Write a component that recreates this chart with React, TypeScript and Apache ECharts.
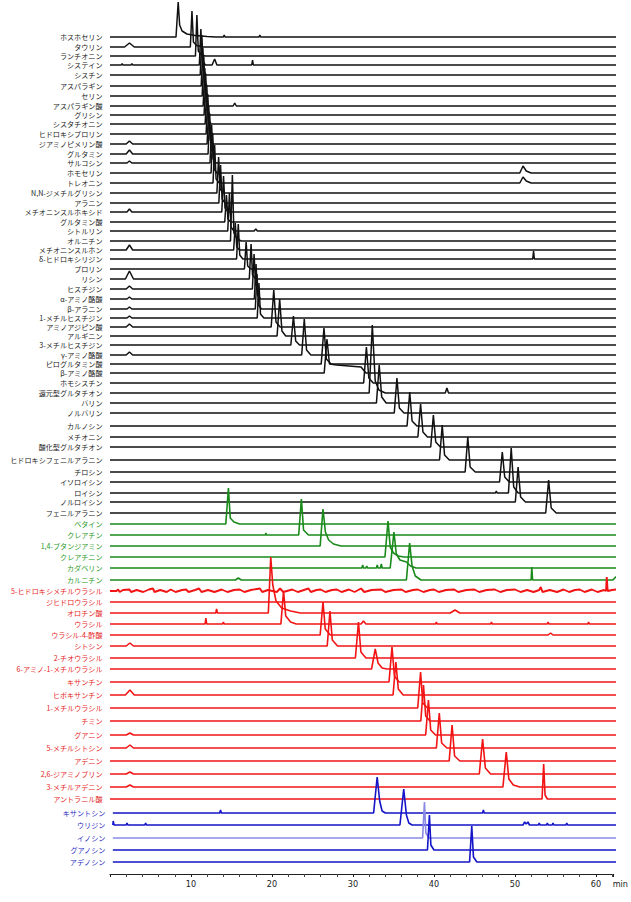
import React, { useEffect, useRef } from "react";
import * as echarts from "echarts";

// Retention-time window of every trace (min)
const TRACE_START = 0;
const NUCLEOSIDE_START = 0.35;
const TRACE_END = 63.4;

// ---------- Amino acids (black) ----------
const aminoNames = [
  "ホスホセリン", "タウリン", "ランチオニン", "システイン", "シスチン", "アスパラギン", "セリン",
  "アスパラギン酸", "グリシン", "シスタチオニン", "ヒドロキシプロリン", "ジアミノピメリン酸", "グルタミン",
  "サルコシン", "ホモセリン", "トレオニン", "N,N-ジメチルグリシン", "アラニン", "メチオニンスルホキシド",
  "グルタミン酸", "シトルリン", "オルニチン", "メチオニンスルホン", "δ-ヒドロキシリジン", "プロリン",
  "リシン", "ヒスチジン", "α-アミノ酪酸", "β-アラニン", "1-メチルヒスチジン", "アミノアジピン酸",
  "アルギニン", "3-メチルヒスチジン", "γ-アミノ酪酸", "ピログルタミン酸", "β-アミノ酪酸", "ホモシスチン",
  "還元型グルタチオン", "バリン", "ノルバリン", "カルノシン", "メチオニン", "酸化型グルタチオン",
  "ヒドロキシフェニルアラニン", "チロシン", "イソロイシン", "ロイシン", "ノルロイシン", "フェニルアラニン",
];
// stacking offset of each trace baseline
const aminoOffsets = [
  837, 827, 818, 809, 799, 788, 778, 768, 759, 750, 740, 730, 720, 711, 701, 691, 681, 671, 662, 652,
  643, 633, 624, 615, 605, 595, 585, 575, 565, 556, 547, 538, 529, 519, 510, 501, 491, 481, 471, 461,
  448, 437, 427, 414, 402, 392, 381, 372, 361,
];
// [time (min), signal] points of each trace
const aminoTraces: number[][][] = [
  [[8.15, 0], [8.42, 35], [8.6, 12], [8.9, 6], [9.5, 3], [10.5, 1.5], [12, 0.5], [13, 0], [14.0, 0], [14.1, 2], [14.2, 0], [18.4, 0], [18.5, 2], [18.6, 0]],
  [[1.8, 0], [2.4, 4], [3.0, 0], [9.92, 0], [10.12, 36], [10.3, 5], [10.7, 1.5], [11.5, 0]],
  [[10.55, 0], [10.73, 41], [10.9, 5], [11.3, 1], [11.8, 0]],
  [[1.4, 0], [1.5, 1.5], [1.6, 0], [2.6, 0], [2.7, 1.5], [2.8, 0], [11.03, 0], [11.22, 36], [11.4, 4], [11.8, 0], [12.6, 0], [12.92, 6], [13.2, 0], [17.5, 0], [17.6, 5], [17.7, 0]],
  [[11.14, 0], [11.34, 40], [11.52, 4], [11.9, 0]],
  [[11.26, 0], [11.46, 38], [11.64, 4], [12.0, 0]],
  [[11.38, 0], [11.58, 40], [11.76, 4], [12.1, 0]],
  [[11.5, 0], [11.7, 38], [11.88, 4], [12.2, 0], [15.2, 0], [15.4, 3], [15.6, 0]],
  [[11.62, 0], [11.82, 40], [12.0, 4], [12.4, 0]],
  [[11.75, 0], [11.95, 38], [12.13, 4], [12.5, 0]],
  [[11.87, 0], [12.07, 40], [12.25, 4], [12.6, 0]],
  [[2.0, 0], [2.4, 3], [2.8, 0], [11.99, 0], [12.19, 38], [12.37, 4], [12.7, 0]],
  [[2.0, 0], [2.4, 4], [2.8, 0], [12.11, 0], [12.31, 40], [12.49, 4], [12.9, 0]],
  [[2.1, 0], [2.4, 2], [2.7, 0], [12.35, 0], [12.55, 38], [12.73, 4], [13.1, 0]],
  [[12.48, 0], [12.68, 40], [12.86, 4], [13.2, 0], [50.6, 0], [51.0, 7], [51.4, 2], [52, 0]],
  [[12.72, 0], [12.92, 38], [13.1, 4], [13.5, 0], [50.6, 0], [51.0, 6], [51.4, 2], [52, 0]],
  [[13.2, 0], [13.41, 36], [13.6, 4], [14.0, 0]],
  [[13.44, 0], [13.65, 38], [13.84, 4], [14.2, 0]],
  [[2.1, 0], [2.4, 3], [2.7, 0], [13.8, 0], [14.02, 36], [14.2, 4], [14.6, 0]],
  [[14.17, 0], [14.38, 27], [14.56, 3], [14.9, 0]],
  [[14.54, 0], [14.75, 38], [14.94, 4], [15.3, 0], [17.8, 0], [18.0, 2], [18.2, 0]],
  [[14.88, 0], [15.11, 66], [15.3, 8], [15.7, 2], [16.2, 0]],
  [[2.0, 0], [2.4, 5], [2.8, 0], [15.27, 0], [15.47, 27], [15.65, 3], [16.0, 0]],
  [[15.63, 0], [15.84, 35], [16.02, 4], [16.4, 0], [52.2, 0], [52.3, 8], [52.4, 0]],
  [[16.6, 0], [16.81, 27], [17.0, 3], [17.4, 0]],
  [[1.9, 0], [2.4, 8], [2.9, 0], [17.2, 0], [17.42, 35], [17.6, 4], [18.0, 0]],
  [[2.0, 0], [2.4, 3], [2.8, 0], [17.58, 0], [17.79, 35], [17.98, 4], [18.4, 0]],
  [[2.1, 0], [2.4, 2], [2.7, 0], [17.82, 0], [18.03, 35], [18.22, 4], [18.6, 0]],
  [[2.1, 0], [2.4, 2], [2.7, 0], [17.94, 0], [18.15, 35], [18.34, 4], [18.7, 0]],
  [[2.1, 0], [2.4, 2], [2.7, 0], [18.18, 0], [18.39, 35], [18.58, 4], [19.0, 0]],
  [[2.0, 0], [2.4, 3], [2.8, 0], [19.9, 0], [20.22, 37], [20.5, 5], [21.0, 0]],
  [[20.63, 0], [20.95, 37], [21.23, 5], [21.7, 0]],
  [[22.33, 0], [22.65, 29], [22.93, 4], [23.4, 0]],
  [[2.0, 0], [2.4, 3], [2.8, 0], [23.67, 0], [23.99, 36], [24.27, 5], [24.8, 0]],
  [[26.08, 0], [26.42, 36], [26.72, 5], [27.3, 0], [62.9, 0], [63.0, 8], [63.1, 0]],
  [[26.45, 0], [26.79, 34], [27.1, 9], [28.0, 8], [31.0, 6], [31.6, 0]],
  [[31.32, 0], [31.66, 36], [31.96, 5], [32.5, 0]],
  [[32.0, 0], [32.39, 68], [32.75, 12], [33.2, 3], [34, 0], [41.4, 0], [41.6, 5], [41.8, 0]],
  [[32.9, 0], [33.24, 38], [33.55, 6], [34.1, 0]],
  [[35.1, 0], [35.43, 35], [35.73, 5], [36.3, 0]],
  [[36.68, 0], [37.01, 34], [37.3, 5], [37.9, 0]],
  [[38.02, 0], [38.35, 33], [38.64, 5], [39.2, 0]],
  [[39.6, 0], [39.93, 32], [40.22, 5], [40.8, 0]],
  [[40.69, 0], [41.02, 35], [41.31, 5], [41.9, 0]],
  [[43.85, 0], [44.18, 35], [44.47, 5], [45.1, 0]],
  [[48.1, 0], [48.44, 30], [48.74, 5], [49.3, 0]],
  [[47.6, 0], [47.7, 2], [47.8, 0], [49.2, 0], [49.54, 45], [49.85, 6], [50.4, 0]],
  [[50.05, 0], [50.39, 35], [50.7, 5], [51.3, 0]],
  [[53.8, 0], [54.16, 33], [54.48, 5], [55.1, 0]],
];

// ---------- Amines (green) ----------
const amineNames = ["ベタイン", "クレアチン", "1,4-ブタンジアミン", "クレアチニン", "カダベリン", "カルニチン"];
const amineOffsets = [350, 339, 328, 317, 306, 294];
const amineTraces: number[][][] = [
  [[14.3, 0], [14.62, 36], [14.85, 6], [15.3, 2], [16, 0]],
  [[19.2, 0], [19.25, 2], [19.3, 0], [23.3, 0], [23.63, 36], [23.9, 5], [24.5, 0]],
  [[25.95, 0], [26.3, 37], [26.6, 14], [27.0, 6], [27.6, 2], [28.5, 0]],
  [[33.95, 0], [34.33, 36], [34.6, 10], [35.0, 4], [35.6, 1], [36.3, 0]],
  [[31.1, 0], [31.2, 3], [31.3, 0], [31.6, 0], [31.7, 2], [31.8, 0], [32.9, 0], [33.0, 3], [33.1, 0], [33.4, 0], [33.5, 4], [33.6, 0], [34.6, 0], [35.06, 36], [35.35, 14], [35.8, 8], [36.6, 6], [37.1, 2], [37.8, 0]],
  [[15.5, 0], [15.84, 2], [16.2, 0], [36.6, 0], [37.0, 37], [37.3, 14], [37.7, 4], [38.4, 0], [52.0, 0], [52.08, 13], [52.18, 0], [62.1, 0], [62.43, 3], [63.4, 3]],
];

// ---------- Nucleobases (red) ----------
const baseNames = [
  "5-ヒドロキシメチルウラシル", "ジヒドロウラシル", "オロチン酸", "ウラシル", "ウラシル-4-酢酸", "シトシン",
  "2-チオウラシル", "6-アミノ-1-メチルウラシル", "キサンチン", "ヒポキサンチン", "1-メチルウラシル", "チミン",
  "グアニン", "5-メチルシトシン", "アデニン", "2,6-ジアミノプリン", "3-メチルアデニン", "アントラニル酸",
];
const baseOffsets = [283, 272, 261, 250, 239, 228, 216, 205, 192, 179, 166, 153, 139, 126, 113, 100, 87, 75];
const baseTraces: number[][][] = [
  [[0.8, 0], [1.0, 1.5], [1.2, -1], [1.6, 1], [2.4, 1.5], [2.6, -1], [3.3, 1], [4.1, -1], [4.8, 1.5], [5.3, 2.5], [5.5, -1], [6.2, 1], [7.0, -1], [7.5, 1.5], [8.1, -1], [8.9, 1], [9.4, 1.5], [9.7, -1], [10.5, 1], [11.0, 2.5], [11.3, -1], [12.1, 1], [12.9, -1], [13.8, 1.5], [14.5, -1], [15.3, 1], [16.0, 1.5], [16.6, -1], [17.4, 1], [18.5, 2.5], [18.8, -1], [19.5, 1], [20.6, -1], [21.0, 2.5], [21.4, -1], [22.5, 1.5], [23.2, -1], [24.5, 2.5], [24.8, -1], [25.5, 1], [26.0, 1.5], [26.6, -1], [27.4, 1], [28.0, 1.5], [28.6, -1], [29.5, 1.5], [30.2, -1], [31.0, 2.5], [31.4, -1], [32.3, 1], [33.5, 1.5], [34.0, -1], [35.0, 1], [36.0, 1.5], [36.5, -1], [37.4, 1], [38.0, 1.5], [38.7, -1], [39.5, 1], [40.0, 1.5], [40.6, -1], [41.5, 1], [42.5, 1.5], [43.0, -1], [44.0, 1], [45.0, 1.5], [45.6, -1], [46.5, 1], [47.5, 1.5], [48.2, -1], [49.0, 1], [50.0, 1.5], [50.7, -1], [51.5, 1], [52.3, -1], [53.0, 1], [53.19, 4], [53.4, -1], [54.3, 1], [55.2, -1], [56.0, 1.5], [56.7, -1], [57.4, 1], [58.0, 1.5], [58.6, -1], [59.5, 1.5], [60.2, -1], [61.0, 1], [61.25, 0], [61.34, 14], [61.45, 0], [62.0, 1], [62.5, 1.5], [63.0, -1]],
  [],
  [[13.06, 0], [13.16, 4], [13.26, 0], [19.55, 0], [19.85, 56], [20.1, 28], [20.5, 12], [21.2, 5], [22.3, 2], [23.5, 0], [42.0, 0], [42.6, 3], [43.2, 0]],
  [[11.74, 0], [11.84, 6], [11.94, 0], [13.9, 0], [14.0, 2], [14.1, 0], [21.1, 0], [21.43, 33], [21.7, 8], [22.3, 2], [23, 0], [31.0, 0], [31.3, 3], [31.6, 0], [40.2, 0], [40.3, 2], [40.4, 0], [47.0, 0], [47.1, 2], [47.2, 0], [54.0, 0], [54.1, 2], [54.2, 0], [59.0, 0], [59.1, 2], [59.2, 0]],
  [[25.95, 0], [26.3, 33], [26.58, 6], [27.2, 0], [54.1, 0], [54.4, 2], [54.7, 0]],
  [[2.0, 0], [2.46, 3], [2.9, 0], [26.82, 0], [27.16, 35], [27.45, 6], [28.1, 0]],
  [[30.3, 0], [30.68, 36], [30.98, 6], [31.6, 0]],
  [[32.3, 0], [32.75, 20], [33.1, 6], [33.6, 1], [34.2, 0]],
  [[34.45, 0], [34.82, 35], [35.12, 6], [35.7, 0]],
  [[1.9, 0], [2.46, 5], [3.0, 0], [34.95, 0], [35.3, 33], [35.6, 6], [36.2, 0]],
  [[38.0, 0], [38.35, 36], [38.62, 5], [39.2, 0]],
  [[38.38, 0], [38.71, 36], [38.98, 5], [39.5, 0]],
  [[2.0, 0], [2.46, 2], [2.9, 0], [38.98, 0], [39.32, 35], [39.6, 5], [40.2, 0]],
  [[2.0, 0], [2.46, 3], [2.9, 0], [40.3, 0], [40.66, 35], [40.95, 5], [41.6, 0]],
  [[41.88, 0], [42.24, 36], [42.55, 5], [43.2, 0]],
  [[2.0, 0], [2.46, 2], [2.9, 0], [45.6, 0], [46.01, 35], [46.35, 6], [47.0, 0]],
  [[2.0, 0], [2.46, 2], [2.9, 0], [48.52, 0], [48.93, 35], [49.25, 8], [49.8, 2], [50.6, 0]],
  [[53.35, 0], [53.55, 35], [53.72, 4], [54.0, 0]],
];

// ---------- Nucleosides (blue) ----------
const nucleosideNames = ["キサントシン", "ウリジン", "イノシン", "グアノシン", "アデノシン"];
const nucleosideOffsets = [61, 49, 36, 24, 12];
const nucleosideTraces: number[][][] = [
  [[13.55, 0], [13.65, 3], [13.75, 0], [32.55, 0], [32.99, 36], [33.3, 12], [33.6, 2], [34, 0], [46.0, 0], [46.11, 3], [46.2, 0]],
  [[0.4, 4], [0.5, 0], [2.0, 0], [2.1, 2], [2.2, 0], [4.3, 0], [4.4, 2], [4.5, 0], [35.8, 0], [36.27, 36], [36.6, 10], [36.9, 2], [37.3, 0], [51.0, 0], [51.2, 3], [51.4, 1], [51.6, 3], [51.8, 0], [52.9, 0], [53.0, 2], [53.1, 0], [53.9, 0], [54.0, 2], [54.1, 0], [54.6, 0], [54.7, 2], [54.8, 0], [56.3, 0], [56.4, 2], [56.5, 0]],
  [[38.6, 0], [38.83, 36], [39.0, 5], [39.4, 0]],
  [[39.2, 0], [39.44, 35], [39.62, 5], [40.0, 0]],
  [[44.4, 0], [44.67, 36], [44.88, 5], [45.3, 0]],
];

const xTickLabels = [10, 20, 30, 40, 50, 60];

const LABEL_FONT = '"Noto Sans CJK JP", "Noto Sans", sans-serif';
const AXIS_FONT = '"Liberation Sans Narrow", "DejaVu Sans Condensed", sans-serif';

type Group = {
  names: string[];
  offsets: number[];
  traces: number[][][];
  start: number;
  lineColors: string[];
  labelColor: string;
  widths: number[];
};

const groups: Group[] = [
  { names: aminoNames, offsets: aminoOffsets, traces: aminoTraces, start: TRACE_START, lineColors: ["#111111"], labelColor: "#222222", widths: [1.5] },
  { names: amineNames, offsets: amineOffsets, traces: amineTraces, start: TRACE_START, lineColors: ["#1a8a1a"], labelColor: "#2a9a2a", widths: [1.6] },
  { names: baseNames, offsets: baseOffsets, traces: baseTraces, start: TRACE_START, lineColors: ["#f21414"], labelColor: "#e61e1e", widths: [1.9, 1.6] },
  { names: nucleosideNames, offsets: nucleosideOffsets, traces: nucleosideTraces, start: NUCLEOSIDE_START, lineColors: ["#1414c8", "#1414c8", "#8a8ae6", "#1414c8", "#1414c8"], labelColor: "#2a2ac0", widths: [1.6] },
];

const pick = <T,>(arr: T[], i: number) => arr[Math.min(i, arr.length - 1)];

function buildSeries() {
  const series: any[] = [];
  groups.forEach((g) => {
    g.names.forEach((name, i) => {
      const off = g.offsets[i];
      const raw = g.traces[i];
      const pts: number[][] = [];
      if (!raw.length || raw[0][0] > g.start) pts.push([g.start, 0]);
      raw.forEach((p) => pts.push(p));
      if (pts[pts.length - 1][0] < TRACE_END) pts.push([TRACE_END, 0]);
      const data = pts.map(([t, v], k) =>
        k === 0
          ? {
              value: [t, off + v],
              symbol: "circle",
              symbolSize: 1,
              itemStyle: { color: "rgba(0,0,0,0)", borderWidth: 0 },
              label: {
                show: true,
                position: "left",
                distance: 7,
                formatter: name,
                color: g.labelColor,
                fontSize: 7.1,
                lineHeight: 8,
                fontFamily: LABEL_FONT,
              },
            }
          : [t, off + v]
      );
      series.push({
        type: "line",
        name,
        data,
        symbol: "none",
        showSymbol: true,
        clip: false,
        silent: true,
        lineStyle: { color: pick(g.lineColors, i), width: pick(g.widths, i) },
        emphasis: { disabled: true },
      });
    });
  });
  return series;
}

export default function App() {
  const ref = useRef<HTMLDivElement>(null);
  useEffect(() => {
    if (!ref.current) return;
    const chart = echarts.init(ref.current, undefined, { renderer: "svg" });
    chart.setOption({
      animation: false,
      backgroundColor: "#ffffff",
      grid: { left: 110, right: 10, top: 0, bottom: 28, containLabel: false },
      xAxis: {
        type: "value",
        min: 0,
        max: 62.2,
        interval: 10,
        name: "min",
        nameLocation: "end",
        nameGap: -1,
        nameTextStyle: {
          fontSize: 9,
          color: "#222",
          verticalAlign: "top",
          align: "left",
          padding: [5, 0, 0, 0],
          fontFamily: AXIS_FONT,
        },
        axisLine: { show: true, lineStyle: { color: "#222", width: 1 } },
        axisTick: { show: true, length: 3, lineStyle: { color: "#222" } },
        minorTick: { show: true, splitNumber: 5, length: 3, lineStyle: { color: "#444" } },
        splitLine: { show: false },
        axisLabel: {
          fontSize: 9,
          color: "#222",
          margin: 5,
          fontFamily: AXIS_FONT,
          formatter: (v: number) => (xTickLabels.includes(v) ? String(v) : ""),
        },
      },
      yAxis: { type: "value", min: 0, max: 874, show: false },
      series: buildSeries(),
    });
    return () => chart.dispose();
  }, []);
  return (
    <div
      ref={ref}
      style={{ position: "absolute", left: 0, top: 0, width: 631, height: 902 }}
    />
  );
}
